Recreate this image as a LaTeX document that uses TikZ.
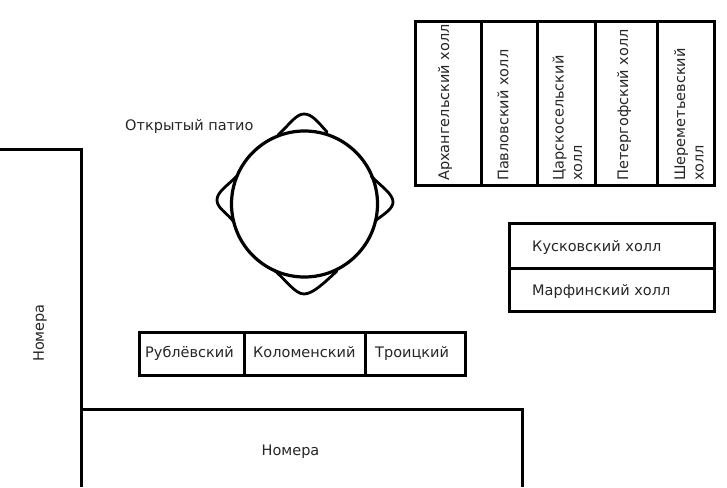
\documentclass[tikz,border=0pt]{standalone}
\usepackage{fontspec}
\setmainfont{DejaVu Sans}
\tikzset{
  wall/.style={line width=3pt,line cap=rect,line join=miter},
  lobe/.style={line width=2.8pt,line cap=round},
  lbl/.style={inner sep=0pt,font=\fontsize{14.5}{18.5}\selectfont,text=black!85},
  hlbl/.style={lbl,anchor=west,text height=11pt,text depth=3pt},
  vlbl/.style={lbl,rotate=90,anchor=west,align=left},
}
\begin{document}
\begin{tikzpicture}[x=1pt, y=-1pt]
      \useasboundingbox (0,0) rectangle (727,487);

      % top halls
      \draw [wall] (415.5,21.5) rectangle (714.5,185.5);
      \draw [wall] (481,21.5) -- (481,185.5);
      \draw [wall] (537,21.5) -- (537,185.5);
      \draw [wall] (595,21.5) -- (595,185.5);
      \draw [wall] (657,21.5) -- (657,185.5);
      \node [vlbl] (arkh) at (445,181) {Архангельский холл};
      \node [vlbl] (pavl) at (503,181) {Павловский холл};
      \node [vlbl] (tsar) at (567.5,181) {Царскосельский\\холл};
      \node [vlbl] (pete) at (624,181) {Петергофский холл};
      \node [vlbl] (shere) at (689,181) {Шереметьевский\\холл};

      % right halls
      \draw [wall] (509.5,223.5) rectangle (714.5,311.5);
      \draw [wall] (509.5,268.5) -- (714.5,268.5);
      \node [hlbl] (kusk) at (532,247) {Кусковский холл};
      \node [hlbl] (marf) at (532,291) {Марфинский холл};

      % patio
      \node [hlbl] (patio) at (125,126) {Открытый патио};
      \draw [lobe] (278,135) .. controls (290,124) and (296,114) .. (304,114)
                   .. controls (312,114) and (318,122) .. (327,132);
      \draw [lobe] (274,270) .. controls (286,280) and (295,294) .. (304,294)
                   .. controls (313,294) and (325,282) .. (337,271);
      \draw [lobe] (237,176) .. controls (227,186) and (217,192) .. (217,200)
                   .. controls (217,208) and (226,212) .. (234,222);
      \draw [lobe] (371,176) .. controls (382,187) and (393,194) .. (393,202)
                   .. controls (393,209) and (384,214) .. (375,221);
      \draw [line width=3.2pt] (304.5,204) circle (73);

      % small rooms
      \draw [wall] (139.5,332.5) rectangle (465,375);
      \draw [wall] (244.5,332.5) -- (244.5,375);
      \draw [wall] (365.5,332.5) -- (365.5,375);
      \node [hlbl] (rubl) at (145,353) {Рублёвский};
      \node [hlbl] (kolo) at (253,353) {Коломенский};
      \node [hlbl] (troi) at (375,353) {Троицкий};

      % rooms
      \draw [wall,line cap=butt] (0,149.5) -- (81.5,149.5) -- (81.5,487);
      \draw [wall,line cap=butt] (81.5,409.5) -- (522.5,409.5) -- (522.5,487);
      \node [lbl,rotate=90] (nom1) at (40,333) {Номера};
      \node [lbl] (nom2) at (290.5,452) {Номера};
\end{tikzpicture}
\end{document}
